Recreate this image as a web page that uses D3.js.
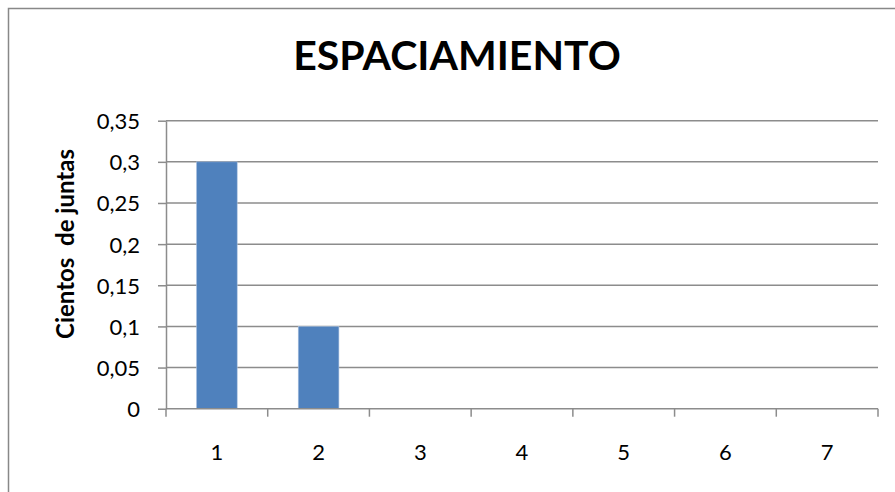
<!DOCTYPE html>
<html><head><meta charset="utf-8">
<script src="https://cdn.jsdelivr.net/npm/d3@7"></script>
<style>
html,body{margin:0;padding:0;background:#fff;}
svg{display:block;font-family:Lato,"Open Sans",sans-serif;}
</style></head>
<body>
<svg id="chart" width="895" height="492"></svg>
<script>
const categories = ["1","2","3","4","5","6","7"];
const values = [0.3, 0.1, 0, 0, 0, 0, 0];
const yTicks = [0, 0.05, 0.1, 0.15, 0.2, 0.25, 0.3, 0.35];
const title = "ESPACIAMIENTO";
const yLabel = "Cientos  de juntas";

const svg = d3.select("#chart");
const W = 895, H = 492;
const m = {left:166, right:878, top:120.7, bottom:408.7};

// outer frame
svg.append("rect").attr("x",8.5).attr("y",8.5).attr("width",W).attr("height",H)
  .attr("fill","#fff").attr("stroke","#888").attr("stroke-width",1.5);

const x = d3.scaleBand().domain(categories).range([m.left,m.right]).paddingInner(0).paddingOuter(0);
const y = d3.scaleLinear().domain([0,0.35]).range([m.bottom,m.top]);
const fmt = d => String(+d.toFixed(2)).replace(".", ",");

// gridlines
svg.append("g").selectAll("line").data(yTicks.filter(d=>d>0)).join("line")
  .attr("x1",m.left).attr("x2",m.right)
  .attr("y1",d=>y(d)).attr("y2",d=>y(d))
  .attr("stroke","#8c8c8c").attr("stroke-width",1.5);

// bars
const bw = x.bandwidth()/2.5;
svg.append("g").selectAll("rect").data(categories.map((c,i)=>({c,v:values[i]}))).join("rect")
  .attr("x",d=>x(d.c)+(x.bandwidth()-bw)/2)
  .attr("y",d=>y(d.v))
  .attr("width",bw)
  .attr("height",d=>y(0)-y(d.v))
  .attr("fill","#4f81bd")
  .attr("stroke","#a9c1e0").attr("stroke-width",0.6);

// y axis
const yAxis = svg.append("g").attr("transform",`translate(${m.left},0)`)
  .call(d3.axisLeft(y).tickValues(yTicks).tickFormat(fmt).tickSize(8).tickSizeOuter(0).tickPadding(18));
yAxis.select(".domain").attr("stroke","#8c8c8c").attr("stroke-width",1.5);
yAxis.selectAll(".tick line").attr("stroke","#8c8c8c").attr("stroke-width",1.5);
yAxis.selectAll("text").attr("font-size",22).attr("fill","#000")
  .attr("font-family","Lato, 'Open Sans', sans-serif").attr("dy","0.36em");

// x axis (ticks at category boundaries)
const xAxisG = svg.append("g").attr("transform",`translate(0,${m.bottom})`);
xAxisG.append("line").attr("x1",m.left).attr("x2",m.right).attr("y1",0).attr("y2",0)
  .attr("stroke","#8c8c8c").attr("stroke-width",1.5);
const bounds = categories.map(c=>x(c)).concat([x(categories[categories.length-1])+x.bandwidth()]);
xAxisG.selectAll("line.tk").data(bounds).join("line").attr("class","tk")
  .attr("x1",d=>d).attr("x2",d=>d).attr("y1",0).attr("y2",8)
  .attr("stroke","#8c8c8c").attr("stroke-width",1.5);
xAxisG.selectAll("text").data(categories).join("text")
  .attr("x",d=>x(d)+x.bandwidth()/2).attr("y",51)
  .attr("text-anchor","middle").attr("font-size",22).attr("fill","#000")
  .text(d=>d);

// title
svg.append("text").attr("x",457).attr("y",70).attr("text-anchor","middle")
  .attr("font-size",41).attr("font-weight","bold").attr("fill","#000").text(title);

// y label
svg.append("text").attr("transform",`translate(74,${244}) rotate(-90)`)
  .attr("text-anchor","middle").attr("font-size",24).attr("font-weight","bold")
  .attr("fill","#000").style("white-space","pre").text(yLabel);
</script>
</body></html>
